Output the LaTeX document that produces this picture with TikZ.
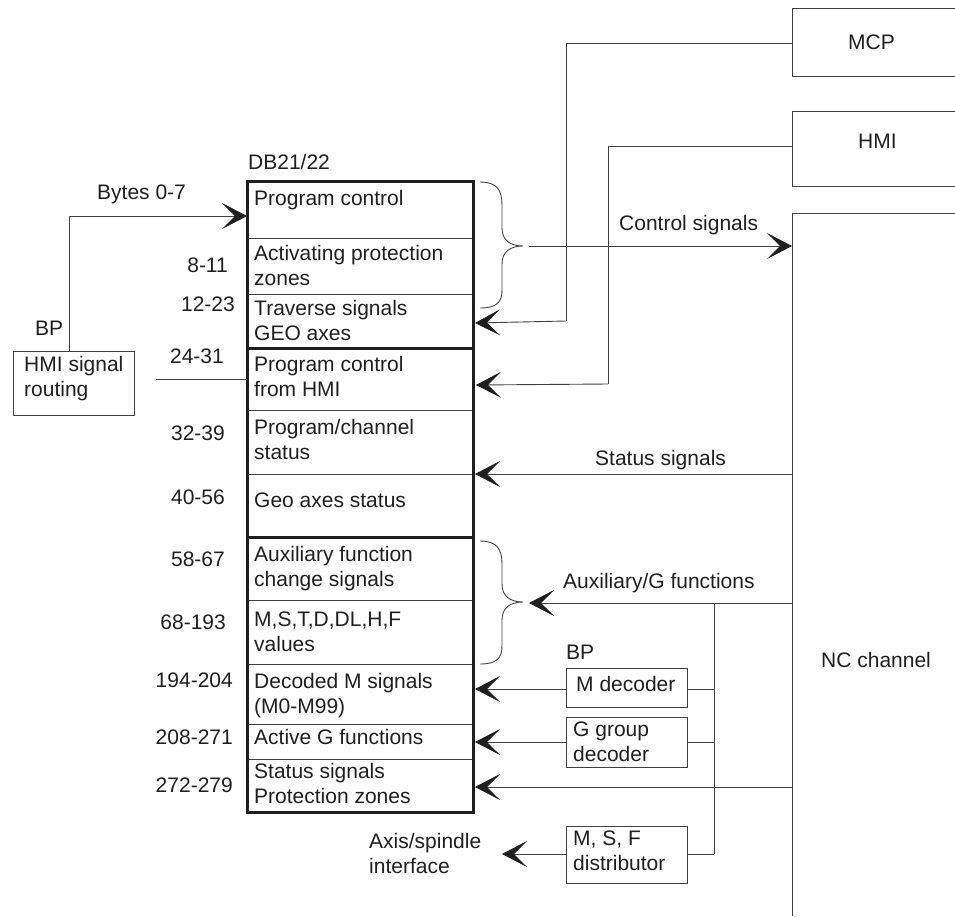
\documentclass[tikz,border=0pt]{standalone}
\usepackage{fontspec}
\setmainfont{Liberation Sans}
\usetikzlibrary{arrows.meta}
\begin{document}
\begin{tikzpicture}[x=1pt,y=-1pt,
  lbl/.style={font=\fontsize{21}{25}\selectfont, inner sep=0pt, align=left, anchor=base west, text=black!88},
  num/.style={font=\fontsize{21}{25}\selectfont, inner sep=0pt, anchor=base east, text=black!88},
  thinln/.style={line width=0.9pt, draw=black!75},
  thickln/.style={line width=3pt, draw=black!88},
  box/.style={thinln, inner sep=0pt, outer sep=0pt, anchor=north west},
  arr/.style={thinln, -{Stealth[length=25pt,width=26pt,inset=13pt,color=black!88]}},
  ]
\useasboundingbox (0,0) rectangle (955,916);

% ---------- main DB21/22 block ----------
\foreach \yy in {238,294,410,474,600,664,724,759}
  \draw[thinln] (247,\yy) -- (473,\yy);
\draw[thickln] (247,181) rectangle (473,348);
\draw[thickln] (247,348) rectangle (473,537);
\draw[thickln] (247,537) rectangle (473,812);

\node[lbl] (db) at (248,169.5) {DB21/22};

% (multi-line nodes are placed by the baseline of their last line)
\node[lbl] (r1)  at (254,205.5) {Program control};
\node[lbl] (r2)  at (254,285.5) {Activating protection\\zones};
\node[lbl] (r3)  at (254,340.5) {Traverse signals\\GEO axes};
\node[lbl] (r4)  at (254,396.5) {Program control\\from HMI};
\node[lbl] (r5)  at (254,459.5) {Program/channel\\status};
\node[lbl] (r6)  at (254,507.5) {Geo axes status};
\node[lbl] (r7)  at (254,586.5) {Auxiliary function\\change signals};
\node[lbl] (r8)  at (254,651.5) {M,S,T,D,DL,H,F\\values};
\node[lbl] (r9)  at (254,713.5) {Decoded M signals\\(M0-M99)};
\node[lbl] (r10) at (254,744.5) {Active G functions};
\node[lbl] (r11) at (254,803.5) {Status signals\\Protection zones};

% byte numbers
\node[num] (n1)  at (228,272.5) {8-11};
\node[num] (n2)  at (235,311.5) {12-23};
\node[num] (n3)  at (224,363.5) {24-31};
\node[num] (n4)  at (225,440.5) {32-39};
\node[num] (n5)  at (225,504.5) {40-56};
\node[num] (n6)  at (225,566.5) {58-67};
\node[num] (n7)  at (226,629.5) {68-193};
\node[num] (n8)  at (233,687.5) {194-204};
\node[num] (n9)  at (233,744.5) {208-271};
\node[num] (n10) at (233,792.5) {272-279};

% ---------- left: HMI signal routing ----------
\node[box, minimum width=121pt, minimum height=64pt] (hsr) at (13,351) {};
\node[lbl] (hsrt) at (24,396.5) {HMI signal\\routing};
\node[lbl] (bp1) at (35,335.5) {BP};
\node[lbl] (bytes) at (97,199.5) {Bytes 0-7};
\coordinate (hsrTop) at (69,351);
\coordinate (bytesCorner) at (69,216);
\draw[thinln] (hsrTop) -- (bytesCorner);
\draw[arr] (bytesCorner) -- (247,216);
\coordinate (hsrOut) at (156,379);
\draw[thinln] (hsrOut) -- (247,379);

% ---------- right: MCP, HMI, NC channel ----------
\coordinate (mcpW) at (792,43);
\coordinate (hmiW) at (792,146);
\draw[thinln] (955,8) -- (792,8) -- (792,76) -- (955,76);
\draw[thinln] (955,111) -- (792,111) -- (792,186) -- (955,186);
\draw[thinln] (955,213) -- (792,213) -- (792,916);
\node[lbl] (mcp) at (848,49.5) {MCP};
\node[lbl] (hmi) at (858,148.5) {HMI};
\node[lbl] (nc) at (821,667.5) {NC channel};

% MCP -> traverse signals
\coordinate (mcpC1) at (566,43);
\coordinate (mcpC2) at (566,321);
\draw[thinln] (mcpW) -- (mcpC1) -- (mcpC2);
\draw[arr] (mcpC2) -- (475,323);

% HMI -> program control from HMI
\coordinate (hmiC1) at (608,146);
\coordinate (hmiC2) at (608,384);
\draw[thinln] (hmiW) -- (hmiC1) -- (hmiC2);
\draw[arr] (hmiC2) -- (476,385);

% braces
\draw[thinln] (480,182) .. controls (497,182) and (502,190) .. (502,205) -- (502,228)
  .. controls (502,240) and (510,246) .. (523,246)
  .. controls (510,246) and (502,252) .. (502,264) -- (502,290)
  .. controls (502,302) and (497,308) .. (480,308);
\draw[thinln] (480,541) .. controls (497,541) and (502,549) .. (502,564) -- (502,584)
  .. controls (502,596) and (510,602) .. (523,602)
  .. controls (510,602) and (502,608) .. (502,620) -- (502,646)
  .. controls (502,658) and (497,664) .. (480,664);

% control signals
\coordinate (ctrlS) at (529,246);
\coordinate (ncCtrl) at (792,246);
\draw[arr] (ctrlS) -- (ncCtrl);
\node[lbl] (ctrl) at (619,230.5) {Control signals};

% status signals
\coordinate (ncStat) at (792,474);
\draw[arr] (ncStat) -- (475,474);
\node[lbl] (stat) at (595,465.5) {Status signals};

% auxiliary / G functions
\coordinate (ncAux) at (792,603);
\coordinate (busTop) at (714,603);
\coordinate (busBot) at (714,854);
\draw[arr] (ncAux) -- (529,603);
\draw[thinln] (busTop) -- (busBot);
\node[lbl] (aux) at (563,588.5) {Auxiliary/G functions};

% decoder boxes
\node[lbl] (bp2) at (566,659.5) {BP};
\node[box, minimum width=121pt, minimum height=39pt] (mdec) at (566,668) {};
\node[lbl] (mdect) at (576,691.5) {M decoder};
\node[box, minimum width=121pt, minimum height=50pt] (gdec) at (566,717) {};
\node[lbl] (gdect) at (573,761.5) {G group\\decoder};
\node[box, minimum width=121pt, minimum height=57pt] (msf) at (566,826) {};
\node[lbl] (msft) at (573,870.5) {M, S, F\\distributor};

\draw[thinln] (714,689) -- (mdec.east |- 0,689);
\draw[arr] (mdec.west |- 0,689) -- (475,689);
\draw[thinln] (714,742) -- (gdec.east |- 0,742);
\draw[arr] (gdec.west |- 0,742) -- (475,742);
\draw[thinln] (busBot) -- (msf.east |- 0,854);
\draw[arr] (msf.west |- 0,854) -- (502,854);
\node[lbl] (axis) at (369,873.5) {Axis/spindle\\interface};

% status signals protection zones
\coordinate (ncProt) at (792,787);
\draw[arr] (ncProt) -- (475,787);

\end{tikzpicture}
\end{document}
